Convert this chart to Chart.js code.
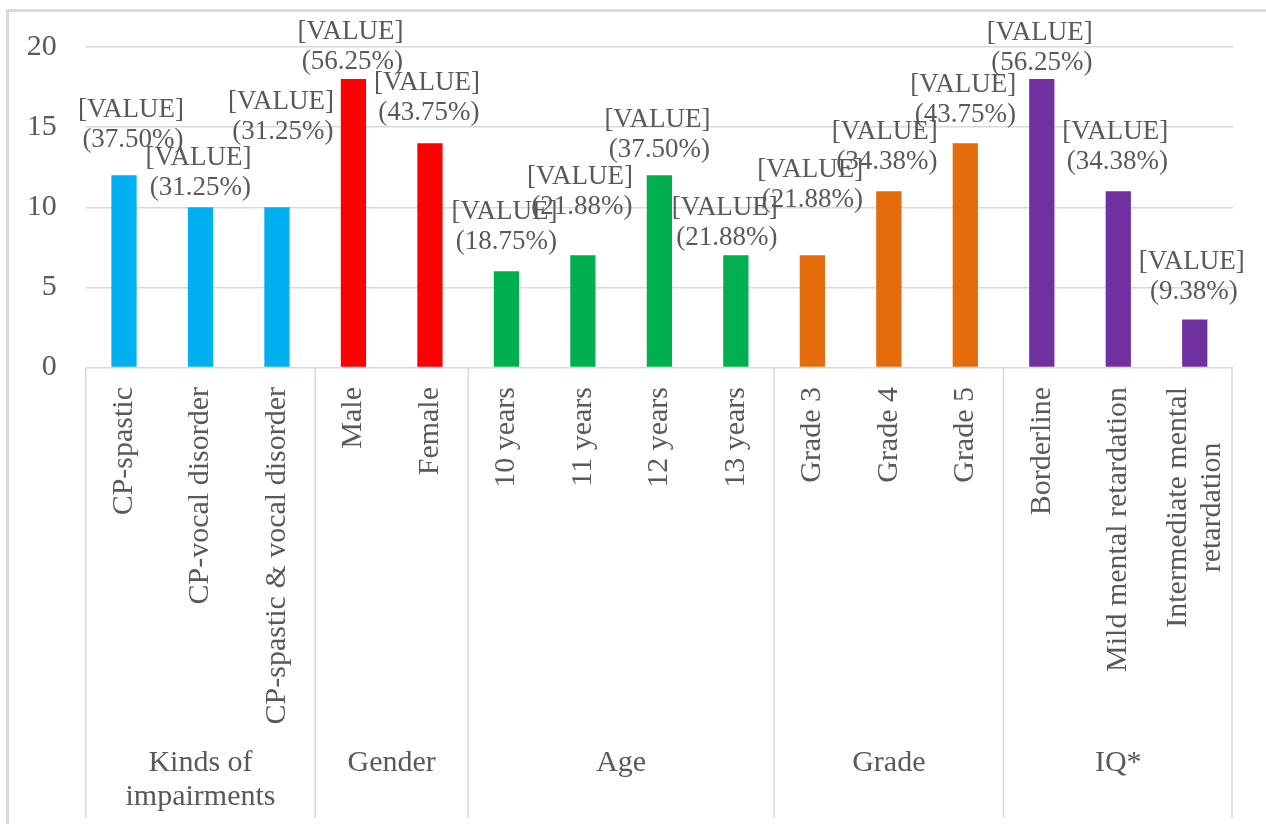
<!DOCTYPE html>
<html>
<head>
<meta charset="utf-8">
<script src="https://cdn.jsdelivr.net/npm/chart.js@4/dist/chart.umd.min.js"></script>
<style>
  html, body { margin: 0; padding: 0; background: #ffffff; }
  #wrap { width: 1266px; height: 824px; position: relative; }
</style>
</head>
<body>
<div id="wrap"><canvas id="chart" width="1266" height="824"></canvas></div>
<script>
// Categories (a line break splits a long label into two lines)
const categories = [
  'CP-spastic', 'CP-vocal disorder', 'CP-spastic & vocal disorder',
  'Male', 'Female',
  '10 years', '11 years', '12 years', '13 years',
  'Grade 3', 'Grade 4', 'Grade 5',
  'Borderline', 'Mild mental retardation', 'Intermediate mental\nretardation'
];

// Counts per category
const counts = [12, 10, 10, 18, 14, 6, 7, 12, 7, 7, 11, 14, 18, 11, 3];

// Share of the 32 participants, as printed under each count
const shares = ['37.50%', '31.25%', '31.25%', '56.25%', '43.75%', '18.75%', '21.88%',
                '37.50%', '21.88%', '21.88%', '34.38%', '43.75%', '56.25%', '34.38%', '9.38%'];

// Group headings and how many categories each one spans
const groupNames = ['Kinds of\nimpairments', 'Gender', 'Age', 'Grade', 'IQ*'];
const groupSizes = [3, 2, 4, 3, 3];
const groupColors = ['#00B0F0', '#FF0000', '#00B050', '#E46C0A', '#7030A0'];

// Y axis ticks
const yTicks = [0, 5, 10, 15, 20];

// Hand-placed data label nudges (px from the bar top-centre)
const labelNudgeX = [7, -2, 4, -3, -3, -2, -3, -2, -11, -2, -4, -2, -2, -3, -3];
const labelNudgeY = [-65, -49, -105, -47, -60, -59, -78, -55, -47, -85, -59, -58, -46, -59, -58];

const barColors = [];
groupSizes.forEach((n, g) => { for (let i = 0; i < n; i++) barColors.push(groupColors[g]); });

const TEXT = '#595959';
const LINE = '#d9d9d9';
const SERIF = '"Liberation Serif", "Times New Roman", serif';

const PLOT_LEFT = 85.75, PLOT_RIGHT = 1233, PLOT_TOP = 47, PLOT_BOTTOM = 367.5;

const frame = {
  id: 'frame',
  beforeDraw(chart) {
    const ctx = chart.ctx;
    ctx.save();
    ctx.strokeStyle = LINE;
    ctx.lineWidth = 3;
    ctx.beginPath();
    ctx.moveTo(7.5, 824);
    ctx.lineTo(7.5, 10.5);
    ctx.lineTo(1266, 10.5);
    ctx.stroke();
    ctx.restore();
  }
};

const axisLabels = {
  id: 'axisLabels',
  afterDraw(chart) {
    const ctx = chart.ctx;
    const xs = chart.scales.x;
    const area = chart.chartArea;
    const step = (xs.right - xs.left) / categories.length;
    ctx.save();

    // group separators below the axis
    ctx.strokeStyle = LINE;
    ctx.lineWidth = 1.5;
    let idx = 0;
    const bounds = [0];
    groupSizes.forEach(n => { idx += n; bounds.push(idx); });
    bounds.forEach(b => {
      const x = Math.min(Math.max(xs.left + b * step, xs.left), xs.right - 1);
      ctx.beginPath();
      ctx.moveTo(x, area.bottom);
      ctx.lineTo(x, 818);
      ctx.stroke();
    });

    // rotated category labels
    ctx.fillStyle = TEXT;
    ctx.font = '30px ' + SERIF;
    ctx.textBaseline = 'middle';
    ctx.textAlign = 'center';
    categories.forEach((lab, i) => {
      const lines = lab.split('\n');
      const w = Math.max(...lines.map(l => ctx.measureText(l).width));
      const x = xs.getPixelForValue(i);
      ctx.save();
      ctx.translate(x, 387);
      ctx.rotate(-Math.PI / 2);
      lines.forEach((l, k) => {
        ctx.fillText(l, -w / 2, (k - (lines.length - 1) / 2) * 34);
      });
      ctx.restore();
    });

    // group headings
    let start = 0;
    groupNames.forEach((name, g) => {
      const end = start + groupSizes[g];
      const cx = xs.left + (start + end) / 2 * step;
      name.split('\n').forEach((l, k) => ctx.fillText(l, cx, 763 + k * 34));
      start = end;
    });
    ctx.restore();
  }
};

const valueLabels = {
  id: 'valueLabels',
  afterDatasetsDraw(chart) {
    const ctx = chart.ctx;
    const meta = chart.getDatasetMeta(0);
    ctx.save();
    ctx.fillStyle = TEXT;
    ctx.font = '27px ' + SERIF;
    ctx.textAlign = 'center';
    ctx.textBaseline = 'middle';
    meta.data.forEach((bar, i) => {
      const x = bar.x + labelNudgeX[i];
      const y = bar.y + labelNudgeY[i];
      ctx.fillText('[VALUE]', x, y);
      ctx.fillText('(' + shares[i] + ')', x + 2, y + 30);
    });
    ctx.restore();
  }
};

new Chart(document.getElementById('chart'), {
  type: 'bar',
  data: {
    labels: categories,
    datasets: [{
      data: counts,
      backgroundColor: barColors,
      borderWidth: 0,
      categoryPercentage: 1,
      barPercentage: 0.33
    }]
  },
  options: {
    responsive: false,
    animation: false,
    events: [],
    layout: { padding: { top: PLOT_TOP, right: 1266 - PLOT_RIGHT, left: 0, bottom: 0 } },
    plugins: { legend: { display: false }, tooltip: { enabled: false } },
    scales: {
      x: {
        grid: { display: false },
        border: { display: false },
        ticks: { display: false },
        afterFit(scale) { scale.height = 824 - PLOT_BOTTOM; }
      },
      y: {
        min: yTicks[0],
        max: yTicks[yTicks.length - 1],
        afterBuildTicks(scale) { scale.ticks = yTicks.map(v => ({ value: v })); },
        grid: { color: LINE, lineWidth: 1.5, drawTicks: false },
        border: { display: false },
        ticks: {
          color: TEXT,
          font: { family: SERIF, size: 30 },
          padding: 29
        },
        afterFit(scale) { scale.width = PLOT_LEFT; }
      }
    }
  },
  plugins: [frame, axisLabels, valueLabels]
});
</script>
</body>
</html>
